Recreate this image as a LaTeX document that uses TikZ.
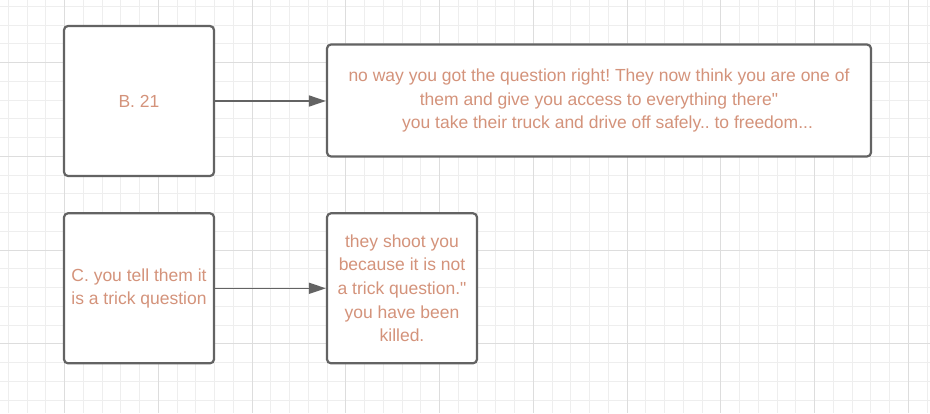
\documentclass[tikz,border=0pt]{standalone}
\usepackage{fontspec}
\setmainfont{Liberation Sans}
\usetikzlibrary{arrows.meta}
\definecolor{boxline}{HTML}{636363}
\definecolor{boxtext}{HTML}{D4937B}
\definecolor{gridminor}{HTML}{EEEEEE}
\definecolor{gridmajor}{HTML}{DDDDDD}
\tikzset{
    card/.style={
        draw=boxline, line width=2.2pt, rounded corners=4pt, fill=white,
        text=boxtext, align=center, inner sep=0pt,
        font=\fontsize{17.5}{23.6}\selectfont\frenchspacing
    },
    square card/.style={card, minimum width=150pt, minimum height=150pt},
    link/.style={draw=boxline, line width=1.6pt, -{Triangle[length=17pt,width=11pt]}},
}

\begin{document}
\begin{tikzpicture}[x=1pt, y=-1pt]
    \useasboundingbox[fill=white] (0,0) rectangle (930,413);
    \foreach \k in {0,...,49} \draw[gridminor, line width=1pt] ({8.33+18.75*\k},0) -- ({8.33+18.75*\k},413);
    \foreach \k in {0,...,21} \draw[gridminor, line width=1pt] (0,{6.25+18.75*\k}) -- (930,{6.25+18.75*\k});
    \foreach \k in {0,...,9} \draw[gridmajor, line width=1pt] ({64.58+93.75*\k},0) -- ({64.58+93.75*\k},413);
    \foreach \k in {0,...,3} \draw[gridmajor, line width=1pt] (0,{62.5+93.75*\k}) -- (930,{62.5+93.75*\k});

    \node[square card] (b21) at (139,101) {B. 21};
    \node[card, minimum width=544pt, minimum height=112pt] (freedom) at (599,100.5)
        {no way you got the question right! They now think you are one of\\
         them and give you access to everything there\textquotedbl\\
         \hspace*{17pt}you take their truck and drive off safely.. to freedom...};
    \node[square card] (trick) at (139,288.3) {C. you tell them it\\is a trick question};
    \node[square card] (killed) at (402,288.3)
        {they shoot you\\because it is not\\a trick question.\textquotedbl\\you have been\\killed.};

    \draw[link] (b21.east) -- (b21.east -| freedom.west);
    \draw[link] (trick) -- (killed);
\end{tikzpicture}
\end{document}
